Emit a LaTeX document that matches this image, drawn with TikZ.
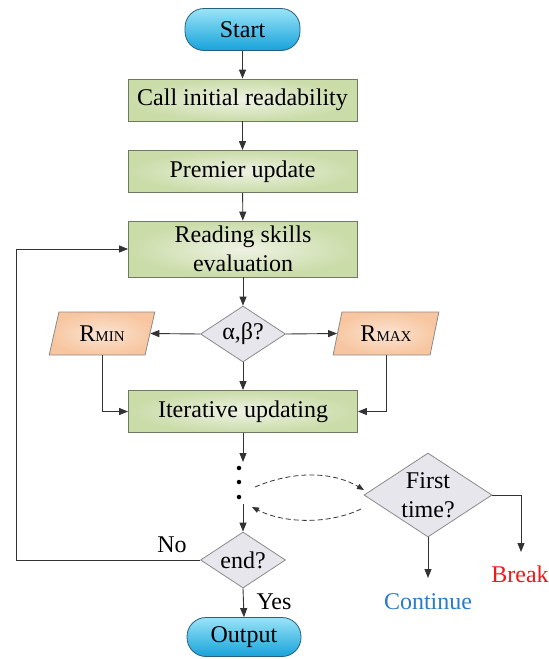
\documentclass[tikz,border=0pt]{standalone}
\usepackage{fontspec}
\setmainfont{Liberation Serif}
\usetikzlibrary{arrows.meta,shapes.geometric}
\definecolor{greenin}{HTML}{EEF2E4}
\definecolor{greenout}{HTML}{CADCA8}
\definecolor{procborder}{HTML}{6F7A62}
\definecolor{cyantop}{HTML}{9AE4F8}
\definecolor{cyanbot}{HTML}{17A2DA}
\definecolor{termborder}{HTML}{2A5F7C}
\definecolor{orangein}{HTML}{FBE3D2}
\definecolor{orangeout}{HTML}{F7C6A0}
\definecolor{diafill}{HTML}{E6E6EC}
\definecolor{diaborder}{HTML}{8A8A8A}
\definecolor{linec}{HTML}{333333}
\definecolor{contblue}{HTML}{2A7BC8}
\definecolor{breakred}{HTML}{F01818}
\newcommand{\smallcapsR}[1]{{\fontsize{15}{16}\selectfont #1}}
\begin{document}
\begin{tikzpicture}[x=1pt,y=-1pt,
  txt/.style={font=\fontsize{24}{29}\selectfont},
  proc/.style={txt, rectangle, draw=procborder, line width=0.8pt, inner color=greenin, outer color=greenout,
    minimum width=229pt, minimum height=42pt, align=center, inner sep=0pt},
  term/.style={txt, rectangle, rounded corners=19pt, draw=termborder, line width=0.8pt,
    top color=cyantop, bottom color=cyanbot, minimum width=115pt, minimum height=42pt, inner sep=0pt},
  dia/.style={diamond, draw=diaborder, line width=0.8pt, fill=diafill, inner sep=0pt},
  paral/.style={txt, trapezium, trapezium stretches=true, draw=diaborder, line width=0.8pt,
    inner color=orangein, outer color=orangeout, minimum width=106pt, minimum height=43pt, inner sep=0pt},
  arr/.style={draw=linec, line width=0.9pt, -{Triangle[length=9pt,width=7pt]}},
  darr/.style={draw=linec, line width=0.8pt, dash pattern=on 5pt off 3pt, -{Triangle[length=7pt,width=5.5pt]}},
  dot/.style={circle, fill=black, inner sep=0pt, minimum size=4.5pt},
  lbl/.style={txt, inner sep=0pt}
]
\useasboundingbox (0,0) rectangle (549,659);

\node[term] (start) at (242.5,29.5) {Start};
\node[proc] (call) at (242.5,100) {Call initial readability};
\node[proc] (prem) at (242.5,171.5) {Premier update};
\node[proc, minimum height=56pt] (read) at (243,249) {Reading skills\\evaluation};
\node[dia, minimum width=85pt, minimum height=56pt, label={[txt]center:α,β?}] (ab) at (243,334) {};
\node[paral, trapezium left angle=72, trapezium right angle=108] (rmin) at (102,333.5) {R\smallcapsR{MIN}};
\node[paral, trapezium left angle=72, trapezium right angle=108] (rmax) at (386,333.5) {R\smallcapsR{MAX}};
\node[proc] (iter) at (243,411.5) {Iterative updating};

\node[dot] (d1) at (239,468) {};
\node[dot] (d2) at (239,482) {};
\node[dot] (d3) at (239,497) {};
\coordinate (dtop) at (243,462);
\coordinate (dbot) at (243,504);

\node[dia, minimum width=85pt, minimum height=56pt, label={[txt]center:end?}] (end) at (243,560) {};
\node[term, minimum height=39pt, minimum width=114pt] (out) at (244,637) {Output};

\node[dia, minimum width=128pt, minimum height=84pt,
  label={[txt, align=center]center:First\\time?}] (ft) at (428,495) {};

\node[lbl] (no) at (172,545) {No};
\node[lbl] (yes) at (274,602) {Yes};
\node[lbl, text=breakred] (brk) at (520,574) {Break};
\node[lbl, text=contblue] (cont) at (428,602) {Continue};
\coordinate (brkend) at (521,552);
\coordinate (contend) at (428,578);
\coordinate (loopx) at (16.5,560);

\coordinate (u1) at (255,487);
\coordinate (u2) at (364,490);
\coordinate (l1) at (361,509);
\coordinate (l2) at (252,507);

% connectors
\draw[arr] (start) -- (call);
\draw[arr] (call) -- (prem);
\draw[arr] (prem) -- (read);
\draw[arr] (read) -- (ab);
\draw[arr] (ab) -- (iter);
\draw[arr] (ab.west) -- (rmin.east);
\draw[arr] (ab.east) -- (rmax.west);
\draw[arr] (rmin.south) |- (iter.west);
\draw[arr] (rmax.south) |- (iter.east);
\draw[arr] (iter.south) -- (dtop);
\draw[arr] (dbot) -- (end.north);
\draw[arr] (end.west) -- (loopx) |- (read.west);
\draw[arr] (end.south) -- (out.north);
\draw[darr] (u1) .. controls (290,472) and (330,470) .. (u2);
\draw[darr] (l1) .. controls (330,524) and (285,524) .. (l2);
\draw[arr] (ft.east) -| (brkend);
\draw[arr] (ft.south) -- (contend);
\end{tikzpicture}
\end{document}
